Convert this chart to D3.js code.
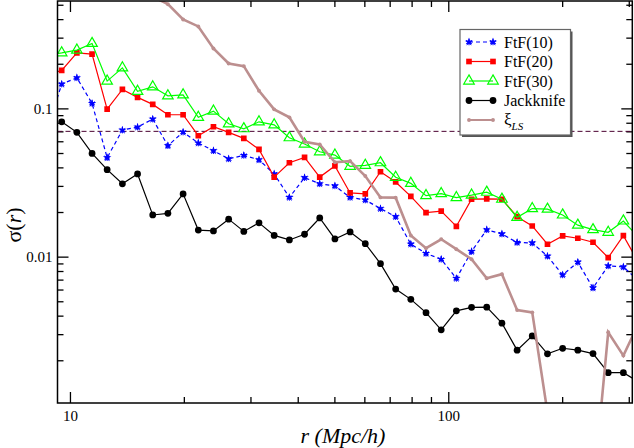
<!DOCTYPE html>
<html>
<head>
<meta charset="utf-8">
<script src="https://cdn.jsdelivr.net/npm/d3@7"></script>
<style>
  html, body { margin: 0; padding: 0; background: #fff; }
  svg { display: block; font-family: "Liberation Serif", "Times New Roman", "DejaVu Serif", serif; }
</style>
</head>
<body>
<svg id="chart" width="634" height="448"></svg>
<script>
// separation r (Mpc/h), one entry per bin
const rBins = [8.67, 9.51, 10.43, 11.44, 12.54, 13.76, 15.09, 16.55, 18.15, 19.91,
  21.84, 23.95, 26.27, 28.81, 31.60, 34.66, 38.02, 41.70, 45.73, 50.16,
  55.02, 60.35, 66.19, 72.60, 79.62, 87.33, 95.79, 105.05, 115.23, 126.38,
  138.62, 152.04, 166.7, 182.9, 200.6, 220.0, 241.3, 264.7, 290.3, 318.4];

const ftf10 = [0.0692, 0.1458, 0.1608, 0.1081, 0.0465, 0.0714, 0.0748, 0.0847, 0.0560, 0.0692,
  0.0584, 0.0518, 0.0457, 0.0482, 0.0450, 0.0361, 0.0251, 0.0341, 0.0310, 0.0300,
  0.0251, 0.0241, 0.0211, 0.0186, 0.01214, 0.01051, 0.0096, 0.00713, 0.01084, 0.01518,
  0.01422, 0.01246, 0.01237, 0.01008, 0.00753, 0.00917, 0.00615, 0.00866, 0.00852, 0.00689];

const ftf20 = [0.1677, 0.1804, 0.2369, 0.2322, 0.0989, 0.1343, 0.1186, 0.1064, 0.0906, 0.0906,
  0.0654, 0.0752, 0.0689, 0.0628, 0.0529, 0.0344, 0.0430, 0.0467, 0.0344, 0.0409,
  0.0269, 0.0265, 0.0374, 0.0319, 0.0255, 0.0198, 0.0203, 0.0160, 0.0244, 0.0245,
  0.0244, 0.0186, 0.0161, 0.01213, 0.01379, 0.0133, 0.0125, 0.00985, 0.01385, 0.00911];

const ftf30 = [0.2287, 0.2369, 0.2471, 0.2742, 0.1528, 0.1878, 0.1302, 0.1398, 0.1216, 0.1235,
  0.0870, 0.0959, 0.0787, 0.0729, 0.0812, 0.0775, 0.0634, 0.0575, 0.0510, 0.0484,
  0.0407, 0.0413, 0.0430, 0.0343, 0.0312, 0.0258, 0.0266, 0.0250, 0.0260, 0.0272,
  0.0244, 0.0184, 0.0211, 0.0209, 0.0191, 0.0163, 0.0152, 0.0146, 0.0174, 0.0135];

const jackknife = [null, 0.0812, 0.0689, 0.0497, 0.0386, 0.0310, 0.0361, 0.0191, 0.0196, 0.0265,
  0.0151, 0.0149, 0.0179, 0.0148, 0.0169, 0.0139, 0.01296, 0.01416, 0.01823, 0.01316,
  0.01467, 0.01224, 0.00897, 0.00604, 0.00515, 0.00419, 0.00321, 0.00431, 0.00455, 0.00456,
  0.00356, 0.00234, 0.00292, 0.00221, 0.00241, 0.00234, 0.00222, 0.00165, 0.00165, 0.00143];

const xiLS = [null, null, null, null, null, null, null, 0.567, 0.5045, 0.398,
  0.357, 0.2537, 0.2010, 0.1928, 0.1314, 0.0985, 0.0870, 0.0596, 0.0572, 0.0433,
  0.0441, 0.0350, 0.0251, 0.0250, 0.0139, 0.01141, 0.0131, 0.01123, 0.0096, 0.00715,
  0.00762, 0.00436, 0.00421, 0.00089, 0.0003, 0.0002, 0.00025, 0.00309, 0.00215, 0.00354];

const refLevel = 0.07;
const xMajorTicks = [10, 100];
const yMajorTicks = [0.01, 0.1];
const legendLabels = ['FtF(10)', 'FtF(20)', 'FtF(30)', 'Jackknife'];

const serif = '"Liberation Serif", "Times New Roman", "DejaVu Serif", serif';
const svg = d3.select('#chart');
const plotLeft = 57.5, plotRight = 632.3, plotTop = 1, plotBottom = 403;

const x = d3.scaleLog().domain([9.27, 306.5]).range([plotLeft, plotRight]);
const y = d3.scaleLog().domain([0.00103, 0.53]).range([plotBottom, plotTop]);

svg.append('defs').append('clipPath').attr('id', 'plot-clip')
  .append('rect')
  .attr('x', plotLeft).attr('y', plotTop)
  .attr('width', plotRight - plotLeft).attr('height', plotBottom - plotTop);

// minor ticks: 2..9 inside each decade
const minorOf = (scale) => {
  const [a, b] = scale.domain();
  const out = [];
  for (let e = Math.floor(Math.log10(a)); e <= Math.ceil(Math.log10(b)); e++) {
    for (let m = 2; m <= 9; m++) {
      const v = m * Math.pow(10, e);
      if (v >= a && v <= b) out.push(v);
    }
  }
  return out;
};

const axisStyle = (g) => {
  g.select('.domain').remove();
  g.selectAll('.tick line').attr('stroke', '#000').attr('stroke-width', 1.3);
  g.selectAll('.tick text').attr('fill', '#000').attr('font-size', 15)
    .attr('font-family', serif);
};

const xFmt = d3.format('d');
const yFmt = (d) => (d >= 0.1 ? '0.1' : '0.01');

// bottom
svg.append('g').attr('transform', `translate(0,${plotBottom})`)
  .call(d3.axisBottom(x).tickValues(minorOf(x)).tickSize(-6).tickFormat(''))
  .call(axisStyle);
svg.append('g').attr('transform', `translate(0,${plotBottom})`)
  .call(d3.axisBottom(x).tickValues(xMajorTicks).tickSize(-11).tickPadding(7).tickFormat(xFmt))
  .call(axisStyle);
// top
svg.append('g').attr('transform', `translate(0,${plotTop})`)
  .call(d3.axisTop(x).tickValues(minorOf(x)).tickSize(-6).tickFormat(''))
  .call(axisStyle);
svg.append('g').attr('transform', `translate(0,${plotTop})`)
  .call(d3.axisTop(x).tickValues(xMajorTicks).tickSize(-11).tickFormat(''))
  .call(axisStyle);
// left
svg.append('g').attr('transform', `translate(${plotLeft},0)`)
  .call(d3.axisLeft(y).tickValues(minorOf(y)).tickSize(-6).tickFormat(''))
  .call(axisStyle);
svg.append('g').attr('transform', `translate(${plotLeft},0)`)
  .call(d3.axisLeft(y).tickValues(yMajorTicks).tickSize(-11).tickPadding(5).tickFormat(yFmt))
  .call(axisStyle);
// right
svg.append('g').attr('transform', `translate(${plotRight},0)`)
  .call(d3.axisRight(y).tickValues(minorOf(y)).tickSize(-6).tickFormat(''))
  .call(axisStyle);
svg.append('g').attr('transform', `translate(${plotRight},0)`)
  .call(d3.axisRight(y).tickValues(yMajorTicks).tickSize(-11).tickFormat(''))
  .call(axisStyle);

const plot = svg.append('g').attr('clip-path', 'url(#plot-clip)');

// reference level
plot.append('line')
  .attr('x1', plotLeft).attr('x2', plotRight)
  .attr('y1', y(refLevel)).attr('y2', y(refLevel))
  .attr('stroke', '#4a0030').attr('stroke-width', 1).attr('stroke-dasharray', '5,3');

const seriesDefs = [
  { values: ftf10, color: '#0000ff', width: 1.2, dash: '4,3', symbol: d3.symbolStar, size: 22, fill: '#0000ff', sw: 0, spikes: true },
  { values: ftf20, color: '#ff0000', width: 1.2, dash: null, symbol: d3.symbolSquare, size: 32, fill: '#ff0000', sw: 0 },
  { values: ftf30, color: '#00ff00', width: 1.2, dash: null, symbol: d3.symbolTriangle, size: 48, fill: 'none', sw: 1.2 },
  { values: jackknife, color: '#000000', width: 1.2, dash: null, symbol: d3.symbolCircle, size: 36, fill: '#000000', sw: 0 },
  { values: xiLS, color: '#bc8f8f', width: 2.6, dash: null, symbol: d3.symbolCircle, size: 12, fill: '#bc8f8f', sw: 0 }
];

const line = d3.line()
  .defined((d) => d.v != null)
  .x((d) => x(d.r))
  .y((d) => y(d.v));

function drawMarker(sel, s) {
  sel.append('path')
    .attr('d', d3.symbol(s.symbol, s.size))
    .attr('fill', s.fill)
    .attr('stroke', s.sw ? s.color : 'none')
    .attr('stroke-width', s.sw);
  if (s.spikes) {
    sel.append('path')
      .attr('d', d3.symbol(d3.symbolAsterisk, 30))
      .attr('fill', 'none')
      .attr('stroke', s.color)
      .attr('stroke-width', 1);
  }
}

seriesDefs.forEach((s) => {
  const pts = rBins.map((r, i) => ({ r, v: s.values[i] }));
  plot.append('path')
    .datum(pts)
    .attr('d', line)
    .attr('fill', 'none')
    .attr('stroke', s.color)
    .attr('stroke-width', s.width)
    .attr('stroke-dasharray', s.dash);
  plot.append('g')
    .selectAll('g')
    .data(pts.filter((d) => d.v != null))
    .join('g')
    .attr('transform', (d) => `translate(${x(d.r)},${y(d.v)})`)
    .each(function () { drawMarker(d3.select(this), s); });
});

// frame
svg.append('rect')
  .attr('x', plotLeft).attr('y', plotTop)
  .attr('width', plotRight - plotLeft).attr('height', plotBottom - plotTop)
  .attr('fill', 'none').attr('stroke', '#000').attr('stroke-width', 1.5);

// legend
const lg = svg.append('g');
lg.append('rect').attr('x', 462).attr('y', 31.5).attr('width', 110.5).attr('height', 105.5).attr('fill', '#555');
lg.append('rect').attr('x', 460).attr('y', 29.5).attr('width', 110.5).attr('height', 105.5)
  .attr('fill', '#fff').attr('stroke', '#666').attr('stroke-width', 1.2);

const rowY = [42, 61.5, 81, 100.5, 120];
seriesDefs.forEach((s, i) => {
  const yy = rowY[i];
  lg.append('line').attr('x1', 469).attr('x2', 493).attr('y1', yy).attr('y2', yy)
    .attr('stroke', s.color).attr('stroke-width', s.width === 2.6 ? 2 : s.width)
    .attr('stroke-dasharray', s.dash);
  [469, 493].forEach((px) => {
    drawMarker(lg.append('g').attr('transform', `translate(${px},${yy})`), s);
  });
  if (i < legendLabels.length) {
    lg.append('text').attr('x', 504).attr('y', yy + 5.5)
      .attr('font-size', 16).attr('font-family', serif).attr('fill', '#000').text(legendLabels[i]);
  }
});
const xiText = lg.append('text').attr('x', 504).attr('y', rowY[4] + 5)
  .attr('font-size', 17).attr('font-family', serif).attr('fill', '#000');
xiText.append('tspan').text('ξ');
xiText.append('tspan').attr('font-size', 11).attr('font-style', 'italic').attr('dy', 5).text('LS');

// axis titles
svg.append('text')
  .attr('x', 343).attr('y', 443)
  .attr('text-anchor', 'middle')
  .attr('font-size', 22).attr('font-style', 'italic').attr('font-family', serif).attr('fill', '#000')
  .text('r (Mpc/h)');

const yTitle = svg.append('text')
  .attr('transform', 'translate(21,225) rotate(-90)')
  .attr('text-anchor', 'middle')
  .attr('font-size', 22).attr('font-family', serif).attr('fill', '#000');
yTitle.append('tspan').text('σ(');
yTitle.append('tspan').attr('font-style', 'italic').text('r');
yTitle.append('tspan').text(')');
</script>
</body>
</html>
